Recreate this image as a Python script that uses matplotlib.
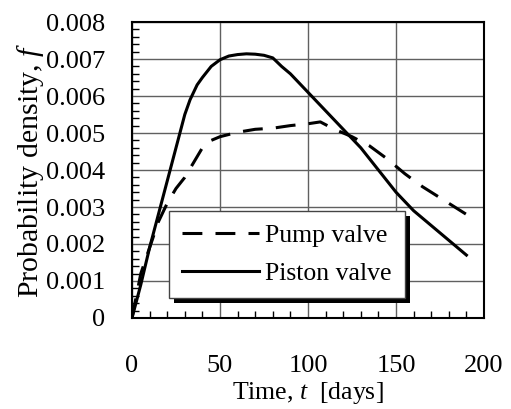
import matplotlib
matplotlib.use("Agg")
import matplotlib.pyplot as plt
import matplotlib.patheffects as pe
from matplotlib.ticker import MultipleLocator

plt.rcParams['font.family'] = ['Liberation Serif', 'DejaVu Serif']
plt.rcParams['mathtext.fontset'] = 'custom'
plt.rcParams['mathtext.it'] = 'Liberation Serif:italic'
plt.rcParams['mathtext.rm'] = 'Liberation Serif'

# time (days) and probability density for the two valve types
t_pump = [0, 5, 10, 15, 20, 25, 30, 35, 40, 45, 50, 60, 70, 80, 90, 100, 107,
          115, 125, 135, 145, 155, 165, 175, 190]
f_pump = [0, 0.0012, 0.0019, 0.0026, 0.0031, 0.0035, 0.0038, 0.0042, 0.0046,
          0.0048, 0.0049, 0.00502, 0.0051, 0.00513, 0.0052, 0.00525, 0.0053,
          0.0051, 0.0049, 0.00465, 0.0043, 0.0039, 0.00355, 0.00325, 0.0028]

t_piston = [0, 5, 10, 15, 20, 25, 30, 33, 37, 40, 45, 50, 55, 60, 65, 70, 75,
            80, 85, 90, 100, 110, 120, 130, 140, 150, 160, 170, 180, 190]
f_piston = [0, 0.0009, 0.0019, 0.0028, 0.0037, 0.0046, 0.0055, 0.0059, 0.0063,
            0.0065, 0.0068, 0.00698, 0.00708, 0.00712, 0.00714, 0.00713,
            0.0071, 0.00703, 0.0068, 0.0066, 0.0061, 0.0056, 0.0051, 0.0046,
            0.0040, 0.0034, 0.0029, 0.0025, 0.0021, 0.0017]

fig = plt.figure(figsize=(5.11, 4.09), dpi=100)
ax = fig.add_axes([0.2583, 0.2225, 0.6889, 0.7237])

ax.plot(t_pump, f_pump, color='black', lw=2.2, dashes=(6.5, 4.3), label='Pump valve')
ax.plot(t_piston, f_piston, color='black', lw=2.2, label='Piston valve')

ax.set_xlim(0, 200)
ax.set_ylim(0, 0.008)
ax.xaxis.set_major_locator(MultipleLocator(50))
ax.xaxis.set_minor_locator(MultipleLocator(10))
ax.yaxis.set_minor_locator(MultipleLocator(0.0002))
ax.set_yticks([0] + [i / 1000 for i in range(1, 9)])
ax.set_yticklabels(['0'] + ['%.3f' % (i / 1000) for i in range(1, 9)])

ax.grid(True, which='major', color='#606060', lw=1.0)
ax.tick_params(which='both', direction='in', top=False, right=False)
ax.tick_params(which='major', length=0)
ax.tick_params(which='minor', length=5, width=1, color='black')
ax.tick_params(axis='y', labelsize=19, pad=19)
ax.tick_params(axis='x', labelsize=19, pad=27)
for s in ax.spines.values():
    s.set_linewidth(1.5)

ax.set_xlabel('Time, $t$  [days]', fontsize=18.5, labelpad=2)
ax.set_ylabel('Probability density, $f$', fontsize=21.5, labelpad=0)

leg = ax.legend(loc='lower left', bbox_to_anchor=(0.105, 0.068), fontsize=18.5,
                handlelength=3.0, fancybox=False, framealpha=1,
                edgecolor='#444444', borderpad=0.5, labelspacing=0.6,
                handletextpad=0.25, borderaxespad=0)
leg.get_frame().set_linewidth(1.0)
leg.get_frame().set_path_effects([
    pe.SimplePatchShadow(offset=(3.5, -3.5), shadow_rgbFace='black', alpha=1),
    pe.Normal()])

fig.savefig('out.png', dpi=100)
